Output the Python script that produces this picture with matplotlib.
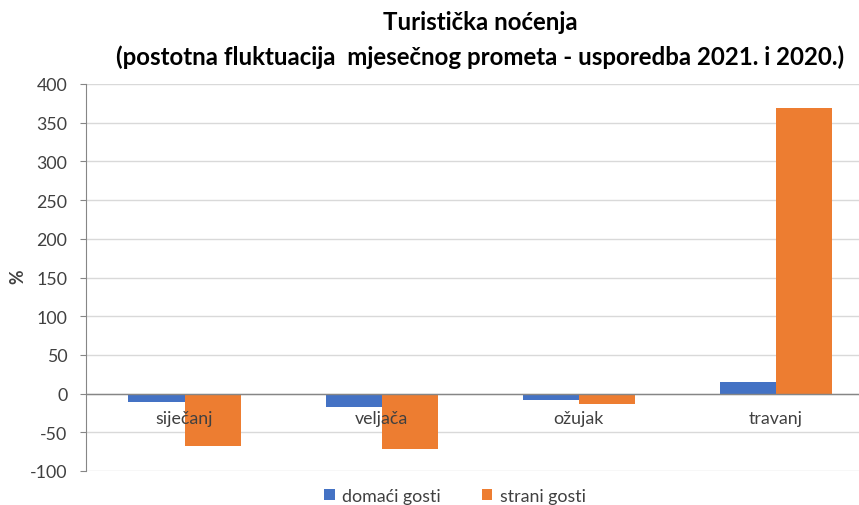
import matplotlib
matplotlib.use("Agg")
import matplotlib.pyplot as plt
import numpy as np

plt.rcParams['font.family'] = ['Lato', 'DejaVu Sans']

categories = ["siječanj", "veljača", "ožujak", "travanj"]
domaci = [-11, -17, -8, 15]
strani = [-68, -72, -13, 369]
series_names = ["domaći gosti", "strani gosti"]
yticks = [-100, -50, 0, 50, 100, 150, 200, 250, 300, 350, 400]

W, H = 859, 506
fig = plt.figure(figsize=(W/100, H/100), dpi=100)
left = 86/W
right = 874.5/W
top = 1 - 85/H
bottom = 1 - 472/H
ax = fig.add_axes([left, bottom, right-left, top-bottom])

x = np.arange(len(categories))
bw = 0.285
b1 = ax.bar(x - bw/2, domaci, bw, color='#4472C4', label=series_names[0], zorder=3)
b2 = ax.bar(x + bw/2, strani, bw, color='#ED7D31', label=series_names[1], zorder=3)

fs = 12.8
ax.set_xlim(-0.5, len(categories) - 0.5)
ax.set_ylim(-100, 400)
ax.set_yticks(yticks)
ax.set_yticklabels([str(t) for t in yticks], fontsize=fs, color='#404040')
ax.grid(axis='y', color='#d9d9d9', linewidth=1, zorder=0)
ax.axhline(0, color='#868686', linewidth=1, zorder=4)
ax.set_xticks([])
for s in ['top', 'right', 'bottom']:
    ax.spines[s].set_visible(False)
ax.spines['left'].set_color('#868686')
ax.tick_params(axis='y', length=4.5, color='#868686', pad=9)

for i, c in enumerate(categories):
    ax.annotate(c, xy=(i, 0), xytext=(0, -12), textcoords='offset points',
                ha='center', va='top', fontsize=fs, color='#404040', zorder=5)

fig.text(18/W, 1 - 277/H, "%", rotation=90, ha='center', va='center',
         fontsize=fs, fontweight='bold', color='#404040')

fig.text(480/W, 1 - 22/H, "Turistička noćenja", ha='center', va='center',
         fontsize=17.3, fontweight='bold', color='#000000')
fig.text(480/W, 1 - 57/H, "(postotna fluktuacija  mjesečnog prometa - usporedba 2021. i 2020.)",
         ha='center', va='center', fontsize=17.3, fontweight='bold', color='#000000')

fig.legend(handles=[b1, b2], labels=series_names, loc='center',
           bbox_to_anchor=(455/W, 1 - 497/H), ncol=2, frameon=False,
           fontsize=fs, handlelength=0.6, handleheight=0.6, columnspacing=2.3,
           handletextpad=0.4, labelcolor='#404040')

fig.savefig("out.png", dpi=100)
